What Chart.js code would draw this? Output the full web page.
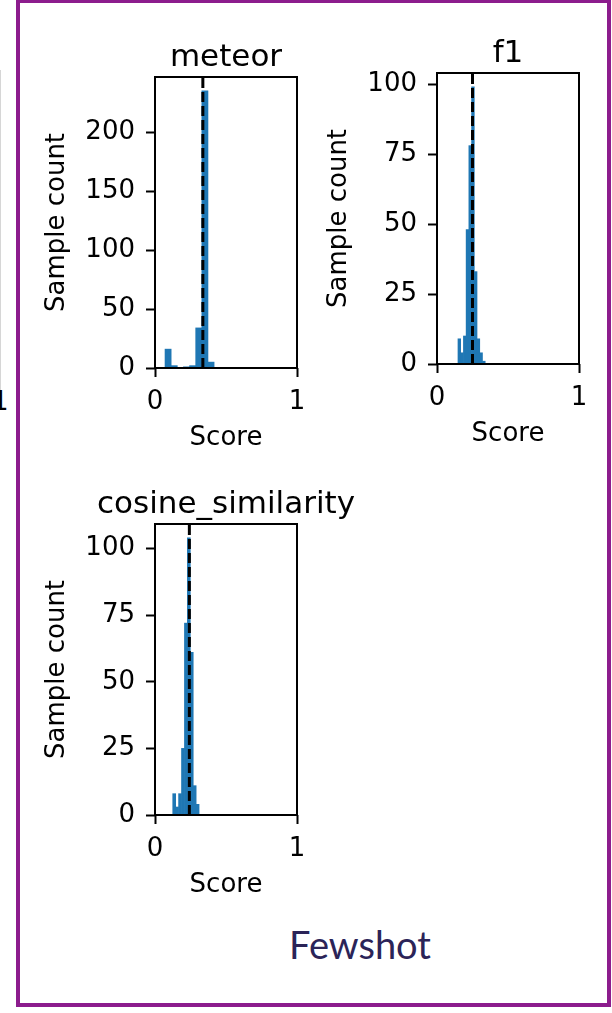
<!DOCTYPE html>
<html><head><meta charset="utf-8">
<script src="https://cdn.jsdelivr.net/npm/chart.js@4.4.1/dist/chart.umd.min.js"></script>
<style>
html,body{margin:0;padding:0;background:#fff;width:612px;height:1013px;overflow:hidden;position:relative;font-family:"DejaVu Sans";}
canvas{position:absolute;}
#frame{position:absolute;left:16px;top:-1px;width:595px;height:1008px;box-sizing:border-box;border:4px solid #8c1c8d;}
#label{position:absolute;left:220px;width:280px;top:921px;text-align:center;font-family:Lato,"Noto Sans",sans-serif;font-size:38px;color:#2b2458;}
#frag{position:absolute;left:-8px;top:386px;font-family:"DejaVu Sans";font-size:26px;color:#000;line-height:30px;}
#fragline{position:absolute;left:0;top:70px;width:1px;height:320px;background:#d6d6d6;}
</style></head><body>
<div id="fragline"></div>
<div id="frag">1</div>
<div id="frame"></div>
<canvas id="c1" width="422" height="461" style="left:15px;top:2px"></canvas>
<canvas id="c2" width="422" height="461" style="left:297px;top:-2px"></canvas>
<canvas id="c3" width="422" height="461" style="left:15px;top:449px"></canvas>
<div id="label">Fewshot</div>
<script>
// ---- data ----
const meteorBins   = [0.0922, 0.1354, 0.1786, 0.2218, 0.2650, 0.3082, 0.3514, 0.3946];
const meteorCounts = [16, 2, 0, 1, 2, 34, 235, 5];
const meteorMean   = 0.337;

const f1Bins   = [0.1572, 0.1764, 0.1956, 0.2147, 0.2339, 0.2531, 0.2723, 0.2915, 0.3107, 0.3298];
const f1Counts = [9, 4, 10, 48, 78, 99, 33, 9, 4, 1];
const f1Mean   = 0.250;

const cosBins   = [0.1352, 0.1558, 0.1764, 0.1970, 0.2177, 0.2383, 0.2589, 0.2795, 0.3001];
const cosCounts = [8, 3, 8, 25, 72, 104, 61, 11, 4];
const cosMean   = 0.242;

const titles = ['meteor', 'f1', 'cosine_similarity'];
const yStepMeteor = 50;
const yStepOther = 25;
const xMin = 0, xMax = 1, xStep = 1;
const xLabel = 'Score';
const yLabel = 'Sample count';

// ---- drawing ----
Chart.defaults.color = '#000';
Chart.defaults.font.family = 'DejaVu Sans';

const framePlugin = {
  id: 'axframe',
  afterDraw(c) {
    const a = c.chartArea, ctx = c.ctx;
    ctx.save();
    ctx.strokeStyle = '#000';
    ctx.lineWidth = 2;
    ctx.strokeRect(a.left, a.top, a.right - a.left, a.bottom - a.top);
    ctx.restore();
  }
};

function makeHist(id, title, bins, counts, mean, yStep, titlePadTop) {
  const ymax = 1.05 * Math.max(...counts);
  const f26 = {family: 'DejaVu Sans', size: 26, weight: 'normal'};
  const gridOpts = {display: true, drawOnChartArea: false, drawTicks: true, tickLength: 9, tickWidth: 2, tickColor: '#000', offset: false};
  const titleLH = 31 * 1.2;
  new Chart(document.getElementById(id), {
    type: 'bar',
    data: {
      datasets: [
        {type: 'line', data: [{x: mean, y: 0}, {x: mean, y: ymax}], borderColor: '#000', borderWidth: 3,
         borderDash: [10, 4], pointRadius: 0, order: 0},
        {type: 'bar', data: bins.map((b, i) => ({x: b, y: counts[i]})), backgroundColor: '#1f77b4',
         borderWidth: 0, barPercentage: 1, categoryPercentage: 1, order: 1}
      ]
    },
    options: {
      responsive: false, animation: false, devicePixelRatio: 1,
      layout: {padding: 0},
      plugins: {
        legend: {display: false}, tooltip: {enabled: false},
        title: {display: true, text: title, color: '#000',
                font: {family: 'DejaVu Sans', size: 31, weight: 'normal', lineHeight: 1.2},
                padding: {top: titlePadTop, bottom: 75 - titleLH - titlePadTop}}
      },
      scales: {
        x: {
          type: 'linear', min: xMin, max: xMax, offset: false,
          grid: gridOpts, border: {display: false},
          ticks: {stepSize: xStep, font: f26, color: '#000', padding: 10, maxRotation: 0},
          title: {display: true, text: xLabel, color: '#000', font: f26, padding: {top: 0, bottom: 9}},
          afterFit(s) { s.height = 95; }
        },
        y: {
          type: 'linear', min: 0, max: ymax,
          grid: gridOpts, border: {display: false},
          ticks: {stepSize: yStep, includeBounds: false, font: f26, color: '#000', padding: 11},
          title: {display: true, text: yLabel, color: '#000', font: f26, padding: {top: 27, bottom: 0}},
          afterFit(s) { s.width = 140; }
        },
        yRight: {
          type: 'linear', position: 'right', display: true,
          grid: {display: false}, border: {display: false}, ticks: {display: false},
          afterFit(s) { s.width = 140; }
        }
      }
    },
    plugins: [framePlugin]
  });
}

makeHist('c1', titles[0], meteorBins, meteorCounts, meteorMean, yStepMeteor, 37);
makeHist('c2', titles[1], f1Bins, f1Counts, f1Mean, yStepOther, 37);
makeHist('c3', titles[2], cosBins, cosCounts, cosMean, yStepOther, 37);
</script>
</body></html>
